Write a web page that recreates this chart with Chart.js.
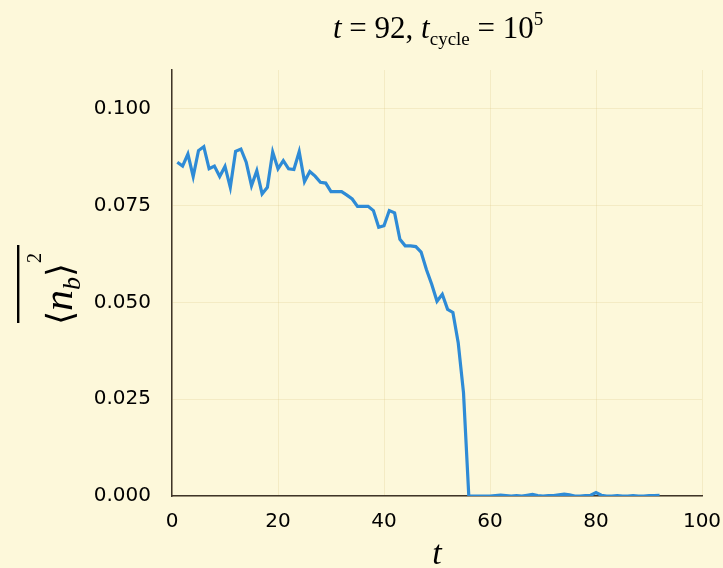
<!DOCTYPE html>
<html lang="en">
<head>
  <meta charset="UTF-8">
  <title>n_b vs t</title>
  <style>
    * { margin:0; padding:0; box-sizing:border-box; }
    body { background:#fdf8da; width:723px; height:568px; overflow:hidden; }
    canvas { display:block; background:#fdf8da; }
  </style>
  <script src="https://cdn.jsdelivr.net/npm/chart.js"></script>
</head>
<body>
  <canvas id="plot" width="723" height="568"></canvas>
  <script>
    const tSteps = [1,2,3,4,5,6,7,8,9,10,11,12,13,14,15,16,17,18,19,20,21,22,23,24,25,26,27,28,29,30,
      31,32,33,34,35,36,37,38,39,40,41,42,43,44,45,46,47,48,49,50,51,52,53,54,55,56,57,58,59,60,
      61,62,63,64,65,66,67,68,69,70,71,72,73,74,75,76,77,78,79,80,81,82,83,84,85,86,87,88,89,90,91,92];
    const nbSq = [0.0862,0.0852,0.0883,0.0825,0.0892,0.0902,0.0845,0.0852,0.0825,0.0851,
      0.0797,0.0890,0.0896,0.0862,0.0801,0.0840,0.0780,0.0797,0.0888,0.0845,
      0.0866,0.0845,0.0843,0.0889,0.0812,0.0838,0.0826,0.0810,0.0808,0.0786,
      0.0786,0.0786,0.0777,0.0767,0.0748,0.0748,0.0748,0.0737,0.0694,0.0698,
      0.0737,0.0731,0.0663,0.0646,0.0646,0.0644,0.0630,0.0585,0.0547,0.0503,
      0.0521,0.0482,0.0474,0.0396,0.0267,0.0000,0.0000,0.0000,0.0000,0.0000,
      0.0001,0.0002,0.0001,0.0000,0.0001,0.0000,0.0002,0.0004,0.0001,0.0000,
      0.0001,0.0001,0.0003,0.0005,0.0003,0.0000,0.0000,0.0001,0.0002,0.0009,
      0.0002,0.0000,0.0000,0.0001,0.0000,0.0000,0.0001,0.0000,0.0000,0.0001,
      0.0001,0.0002];
    const xTicks = [0, 20, 40, 60, 80, 100];
    const yTicks = [0, 0.025, 0.05, 0.075, 0.1];

    const SERIF = '"Liberation Serif", "DejaVu Serif", serif';

    // draw a run of text pieces (for sub/superscripts) starting at x
    function drawRich(ctx, parts, x, y) {
      parts.forEach(p => {
        ctx.font = p.font;
        ctx.fillText(p.text, x, y + (p.dy || 0));
        x += ctx.measureText(p.text).width;
      });
    }

    const labelsPlugin = {
      id: 'mathLabels',
      afterDraw(chart) {
        const ctx = chart.ctx;
        const area = chart.chartArea;
        const cx = (area.left + area.right) / 2;
        ctx.save();
        ctx.fillStyle = '#000';
        ctx.textBaseline = 'alphabetic';
        ctx.textAlign = 'left';

        // title
        const title = [
          { text: 't', font: 'italic 31px ' + SERIF },
          { text: ' = 92, ', font: '31px ' + SERIF },
          { text: 't', font: 'italic 31px ' + SERIF },
          { text: 'cycle', font: '19px ' + SERIF, dy: 7 },
          { text: ' = 10', font: '31px ' + SERIF },
          { text: '5', font: '19px ' + SERIF, dy: -13 }
        ];
        drawRich(ctx, title, 333, 38);

        // x axis label
        ctx.font = 'italic 34px ' + SERIF;
        ctx.textAlign = 'center';
        ctx.fillText('t', cx, 564);

        // y axis label, rotated
        ctx.translate(72, 325);
        ctx.rotate(-Math.PI / 2);
        ctx.textAlign = 'left';
        const ylab = [
          { text: '\u27E8', font: '36px ' + SERIF },
          { text: 'n', font: 'italic 42px ' + SERIF },
          { text: 'b', font: 'italic 26px ' + SERIF, dy: 8 },
          { text: '\u27E9', font: '36px ' + SERIF },
          { text: '2', font: '20px ' + SERIF, dy: -31 }
        ];
        drawRich(ctx, ylab, 0, 0);
        ctx.fillRect(2, -55, 78, 2.4);
        ctx.restore();
      }
    };

    new Chart(document.getElementById('plot').getContext('2d'), {
      type: 'line',
      data: {
        datasets: [{
          data: tSteps.map((t, i) => ({ x: t, y: nbSq[i] })),
          borderColor: '#2e8bd6',
          borderWidth: 3.2,
          pointRadius: 0,
          tension: 0,
          fill: false
        }]
      },
      options: {
        responsive: false,
        animation: false,
        devicePixelRatio: 1,
        layout: { padding: { top: 70, right: 21, left: 0, bottom: 0 } },
        plugins: { legend: { display: false }, tooltip: { enabled: false }, title: { display: false } },
        scales: {
          x: {
            type: 'linear', min: 0, max: 100,
            afterBuildTicks: s => { s.ticks = xTicks.map(v => ({ value: v })); },
            afterFit: s => { s.height = 72; s.paddingLeft = 0; s.paddingRight = 0; },
            grid: { color: 'rgba(215,185,120,0.22)', drawTicks: false, tickLength: 0 },
            border: { display: true, color: '#3f3528', width: 1.5 },
            ticks: { color: '#000', font: { family: '"DejaVu Sans"', size: 20 }, padding: 14, maxRotation: 0,
              callback: v => String(v) }
          },
          y: {
            min: 0, max: 0.11,
            afterBuildTicks: s => { s.ticks = yTicks.map(v => ({ value: v })); },
            afterFit: s => { s.width = 172; s.paddingTop = 0; s.paddingBottom = 0; },
            grid: { color: 'rgba(215,185,120,0.22)', drawTicks: false, tickLength: 0 },
            border: { display: true, color: '#3f3528', width: 1.5 },
            ticks: { color: '#000', font: { family: '"DejaVu Sans"', size: 20 }, padding: 21,
              callback: v => v.toFixed(3) }
          }
        }
      },
      plugins: [labelsPlugin]
    });
  </script>
</body>
</html>
